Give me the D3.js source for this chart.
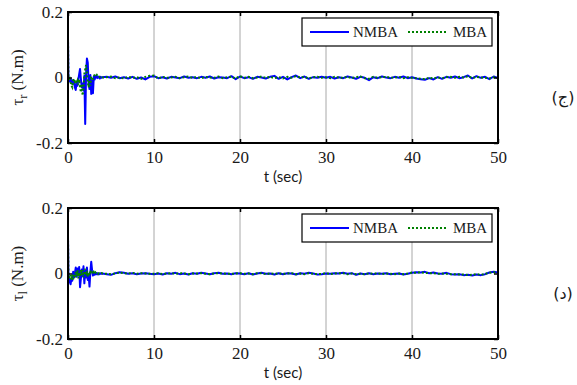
<!DOCTYPE html>
<html>
<head>
<meta charset="utf-8">
<script src="https://cdn.jsdelivr.net/npm/d3@7"></script>
<style>
  html, body { margin: 0; padding: 0; background: #fff; }
  svg { display: block; }
</style>
</head>
<body>
<svg id="chart" width="577" height="385"></svg>
<script>
// Sample times (s): fine grid through the start-up transient, coarser afterwards
const timeFine = [0, 0.05, 0.1, 0.2, 0.3, 0.4, 0.5, 0.6, 0.7, 0.8, 0.9, 1.0, 1.1, 1.2, 1.3, 1.4, 1.5, 1.6, 1.7, 1.8, 1.9,
  2.0, 2.1, 2.2, 2.3, 2.4, 2.5, 2.6, 2.7, 2.8, 2.9, 3.0, 3.1, 3.2, 3.3, 3.4, 3.5, 3.6, 3.7, 3.8, 3.9, 4.0];
const timeCoarse = [4.5, 5, 5.5, 6, 6.5, 7, 7.5, 8, 8.5, 9, 9.5,
  10, 10.5, 11, 11.5, 12, 12.5, 13, 13.5, 14, 14.5,
  15, 15.5, 16, 16.5, 17, 17.5, 18, 18.5, 19, 19.5,
  20, 20.5, 21, 21.5, 22, 22.5, 23, 23.5, 24, 24.5,
  25, 25.5, 26, 26.5, 27, 27.5, 28, 28.5, 29, 29.5,
  30, 30.5, 31, 31.5, 32, 32.5, 33, 33.5, 34, 34.5,
  35, 35.5, 36, 36.5, 37, 37.5, 38, 38.5, 39, 39.5,
  40, 40.5, 41, 41.5, 42, 42.5, 43, 43.5, 44, 44.5,
  45, 45.5, 46, 46.5, 47, 47.5, 48, 48.5, 49, 49.5, 50];
const time = timeFine.concat(timeCoarse);

// Right wheel torque tau_r (N.m)
const tauR_NMBA = [0.120, 0.002, -0.005, -0.012, -0.004, -0.010, -0.020, -0.008, -0.015, -0.030, -0.038,
  -0.012, -0.025, -0.006, 0.010, 0.026, -0.005, -0.030, -0.018, -0.040, 0.005,
  -0.142, 0.010, 0.058, 0.045, -0.020, -0.035, 0.008, -0.050, -0.010, -0.048,
  0.002, -0.006, 0.004, 0.006, -0.002, 0.003, 0.000, -0.003, 0.002, -0.001, 0.001,
  0.002, -0.001, 0.003, -0.002, 0.001, -0.003, 0.002, -0.004, 0.000, -0.006, 0.002,
  0.004, -0.002, 0.001, -0.003, 0.002, 0.000, -0.002, 0.003, -0.001, 0.001,
  -0.002, 0.002, -0.001, 0.003, -0.003, 0.001, 0.000, -0.002, 0.004, -0.005,
  0.003, -0.002, 0.001, -0.004, 0.002, 0.000, -0.003, 0.002, 0.005, -0.004,
  0.002, -0.006, 0.001, 0.006, -0.002, 0.003, -0.004, 0.001, -0.001, 0.002,
  -0.001, 0.002, -0.003, 0.001, -0.002, 0.003, 0.000, -0.004, 0.002, -0.001,
  -0.008, 0.001, -0.002, 0.003, 0.000, -0.002, 0.002, -0.001, 0.003, -0.002,
  0.001, -0.003, -0.005, -0.007, -0.002, -0.006, 0.001, -0.004, 0.002, -0.001,
  0.003, -0.002, 0.001, 0.006, -0.003, 0.004, -0.001, 0.002, -0.005, 0.003,
  -0.002];
const tauR_MBA = [0.120, 0.000, -0.010, -0.004, -0.015, -0.025, -0.030, -0.010, -0.004, -0.012, -0.008,
  -0.018, -0.010, -0.022, -0.006, -0.030, -0.045, -0.020, -0.055, -0.035, 0.010,
  0.025, 0.038, 0.012, -0.015, -0.030, -0.008, -0.025, 0.004, -0.010, -0.004,
  0.004, 0.008, 0.012, 0.010, 0.006, 0.003, 0.004, 0.001, 0.002, -0.001, 0.000,
  0.001, 0.003, -0.002, 0.000, -0.003, 0.002, -0.001, 0.001, -0.004, 0.002, 0.005,
  0.006, -0.003, 0.002, -0.001, 0.000, 0.002, -0.002, 0.001, 0.003, -0.001,
  0.001, -0.002, 0.002, 0.000, -0.001, 0.003, -0.002, 0.001, 0.002, -0.003,
  0.004, -0.001, 0.002, -0.002, 0.000, 0.003, -0.001, 0.002, -0.002, 0.001,
  -0.003, 0.002, -0.001, 0.004, 0.000, 0.002, -0.003, 0.001, 0.002, -0.001,
  0.001, -0.002, 0.002, 0.000, -0.001, 0.002, -0.002, 0.001, 0.003, -0.002,
  -0.004, 0.002, -0.001, 0.001, 0.002, -0.001, 0.000, 0.002, -0.002, 0.001,
  -0.001, -0.002, -0.004, -0.005, -0.001, -0.003, 0.000, -0.002, 0.001, 0.002,
  -0.001, 0.002, 0.000, 0.004, -0.002, 0.002, 0.000, -0.001, -0.003, 0.001,
  0.000];

// Left wheel torque tau_l (N.m)
const tauL_NMBA = [0.113, 0.000, -0.010, -0.025, -0.033, -0.015, -0.022, 0.005, -0.012, 0.000, 0.018,
  -0.010, 0.015, -0.005, 0.020, -0.042, -0.015, 0.012, -0.008, 0.022, -0.030,
  0.008, -0.012, 0.018, -0.020, -0.005, -0.040, 0.004, 0.036, 0.010, -0.006,
  0.003, -0.004, 0.002, -0.002, 0.001, -0.003, 0.000, -0.002, 0.001, -0.001, 0.000,
  -0.002, -0.004, 0.001, 0.004, 0.002, -0.001, 0.001, -0.002, 0.000, 0.001, -0.001,
  -0.002, 0.000, -0.003, 0.001, -0.001, 0.002, -0.002, 0.000, -0.003, 0.001,
  -0.001, 0.002, 0.000, -0.002, 0.001, 0.002, -0.001, 0.000, -0.002, 0.001,
  0.000, -0.002, 0.001, -0.003, 0.000, 0.002, -0.001, 0.000, -0.003, 0.001,
  -0.002, 0.001, 0.000, -0.003, 0.001, -0.001, 0.002, 0.000, -0.003, -0.002,
  0.000, -0.001, 0.001, 0.000, 0.002, -0.001, 0.001, -0.004, 0.000, -0.002,
  0.001, -0.002, 0.000, -0.001, 0.001, -0.002, -0.001, 0.000, -0.003, -0.001,
  0.002, 0.004, 0.003, 0.005, 0.001, 0.003, 0.000, -0.001, 0.002, -0.002,
  -0.003, -0.002, -0.005, -0.004, -0.006, -0.003, -0.005, -0.002, 0.003, 0.005,
  0.003];
const tauL_MBA = [0.113, 0.000, -0.008, -0.015, -0.005, -0.020, -0.010, -0.018, -0.004, -0.012, 0.005,
  -0.008, 0.010, -0.015, 0.004, -0.010, 0.012, -0.005, 0.010, -0.012, 0.006,
  0.014, -0.006, 0.008, -0.010, 0.004, -0.006, 0.010, 0.002, 0.006, -0.002,
  0.004, -0.002, 0.003, 0.000, 0.002, -0.001, 0.001, -0.001, 0.000, 0.001, 0.000,
  -0.001, -0.002, 0.000, 0.003, 0.001, 0.000, 0.002, -0.001, 0.001, 0.000, -0.001,
  -0.001, 0.001, -0.002, 0.000, 0.001, -0.001, 0.001, 0.000, -0.002, 0.000,
  0.000, 0.001, -0.001, -0.002, 0.000, 0.001, 0.000, -0.001, -0.001, 0.000,
  0.001, -0.001, 0.000, -0.002, 0.001, 0.001, -0.002, 0.000, -0.001, 0.000,
  -0.001, 0.000, 0.001, -0.002, 0.000, -0.002, 0.001, -0.001, -0.002, -0.001,
  0.001, -0.002, 0.000, 0.001, 0.001, -0.002, 0.000, -0.002, -0.001, -0.002,
  0.000, -0.001, 0.001, -0.002, 0.000, -0.001, -0.002, 0.000, -0.002, 0.000,
  0.003, 0.002, 0.004, 0.002, 0.001, 0.001, -0.001, 0.000, -0.001, -0.002,
  -0.002, -0.003, -0.003, -0.005, -0.004, -0.002, -0.004, -0.001, 0.002, 0.004,
  0.002];

// Axis ticks and labels
const xTicks = [0, 10, 20, 30, 40, 50];
const yTicks = [-0.2, 0, 0.2];
const yTickLabels = ["-0.2", "0", "0.2"];
const seriesNames = ["NMBA", "MBA"];
const panelLabels = ["(ج)", "(د)"];
const panelSubscripts = ["r", "l"];

const svg = d3.select("#chart");
const left = 68, right = 498;
const panels = [
  { top: 12, bottom: 143, a: tauR_NMBA, b: tauR_MBA, sub: panelSubscripts[0], tag: panelLabels[0] },
  { top: 208, bottom: 339, a: tauL_NMBA, b: tauL_MBA, sub: panelSubscripts[1], tag: panelLabels[1] }
];

const serif = "'Liberation Serif', 'DejaVu Serif', serif";

panels.forEach(p => {
  const x = d3.scaleLinear().domain([0, 50]).range([left, right]);
  const y = d3.scaleLinear().domain([-0.2, 0.2]).range([p.bottom, p.top]);
  const g = svg.append("g");

  // vertical grid
  g.append("g").selectAll("line").data(xTicks.slice(1, -1)).join("line")
    .attr("x1", d => x(d)).attr("x2", d => x(d))
    .attr("y1", p.top).attr("y2", p.bottom)
    .attr("stroke", "#a8a8a8").attr("stroke-width", 1);

  const clipId = "clip" + p.sub;
  svg.append("clipPath").attr("id", clipId).append("rect")
    .attr("x", left).attr("y", p.top).attr("width", right - left).attr("height", p.bottom - p.top);

  const line = d3.line().x((d, i) => x(time[i])).y(d => y(d));
  g.append("path").datum(p.a).attr("d", line)
    .attr("clip-path", `url(#${clipId})`)
    .attr("fill", "none").attr("stroke", "#0000ff").attr("stroke-width", 2)
    .attr("stroke-linejoin", "round");
  g.append("path").datum(p.b).attr("d", line)
    .attr("clip-path", `url(#${clipId})`)
    .attr("fill", "none").attr("stroke", "#008000").attr("stroke-width", 2)
    .attr("stroke-dasharray", "2,2");

  // axes with inward ticks
  const xb = g.append("g").attr("transform", `translate(0,${p.bottom})`)
    .call(d3.axisBottom(x).tickValues(xTicks).tickSizeInner(-4).tickSizeOuter(0).tickPadding(8).tickFormat(d3.format("d")));
  const xt = g.append("g").attr("transform", `translate(0,${p.top})`)
    .call(d3.axisTop(x).tickValues(xTicks).tickSizeInner(-4).tickSizeOuter(0).tickFormat(""));
  const yl = g.append("g").attr("transform", `translate(${left},0)`)
    .call(d3.axisLeft(y).tickValues(yTicks).tickSizeInner(-4).tickSizeOuter(0).tickPadding(5)
      .tickFormat((d, i) => yTickLabels[i]));
  const yr = g.append("g").attr("transform", `translate(${right},0)`)
    .call(d3.axisRight(y).tickValues(yTicks).tickSizeInner(-4).tickSizeOuter(0).tickFormat(""));
  [xb, xt, yl, yr].forEach(a => {
    a.select(".domain").remove();
    a.selectAll("line").attr("stroke", "#000").attr("stroke-width", 1.5);
    a.selectAll("text").attr("fill", "#1a1a1a").style("font-family", serif).style("font-size", "17px");
  });

  // frame
  g.append("rect").attr("x", left).attr("y", p.top)
    .attr("width", right - left).attr("height", p.bottom - p.top)
    .attr("fill", "none").attr("stroke", "#000").attr("stroke-width", 2);

  // x label
  g.append("text").attr("x", (left + right) / 2).attr("y", p.bottom + 39)
    .attr("text-anchor", "middle").attr("fill", "#1a1a1a")
    .style("font-family", "Lato, 'Open Sans', sans-serif").style("font-size", "15px")
    .text("t (sec)");

  // y label
  const yt = g.append("text").attr("transform", `translate(23,${(p.top + p.bottom) / 2}) rotate(-90)`)
    .attr("text-anchor", "middle").attr("fill", "#1a1a1a")
    .style("font-family", serif).style("font-size", "17px");
  yt.append("tspan").text("τ");
  yt.append("tspan").attr("dy", 4).style("font-size", "12px").text(p.sub);
  yt.append("tspan").attr("dy", -4).text(" (N.m)");

  // legend
  const lg = g.append("g");
  lg.append("rect").attr("x", 302).attr("y", p.top + 6).attr("width", 190).attr("height", 28)
    .attr("fill", "#fff").attr("stroke", "#000").attr("stroke-width", 1.2);
  const ly = p.top + 20;
  lg.append("line").attr("x1", 310).attr("x2", 349).attr("y1", ly).attr("y2", ly)
    .attr("stroke", "#0000ff").attr("stroke-width", 2);
  lg.append("text").attr("x", 353).attr("y", ly + 5).attr("fill", "#1a1a1a")
    .style("font-family", serif).style("font-size", "15px").text(seriesNames[0]);
  lg.append("line").attr("x1", 408).attr("x2", 446).attr("y1", ly).attr("y2", ly)
    .attr("stroke", "#008000").attr("stroke-width", 2).attr("stroke-dasharray", "2,2");
  lg.append("text").attr("x", 453).attr("y", ly + 5).attr("fill", "#1a1a1a")
    .style("font-family", serif).style("font-size", "15px").text(seriesNames[1]);

  // panel tag
  g.append("text").attr("x", 563).attr("y", (p.top + p.bottom) / 2 + 25)
    .attr("text-anchor", "middle").attr("fill", "#1a1a1a")
    .style("font-family", "'DejaVu Sans', sans-serif").style("font-size", "16px")
    .text(p.tag);
});
</script>
</body>
</html>
